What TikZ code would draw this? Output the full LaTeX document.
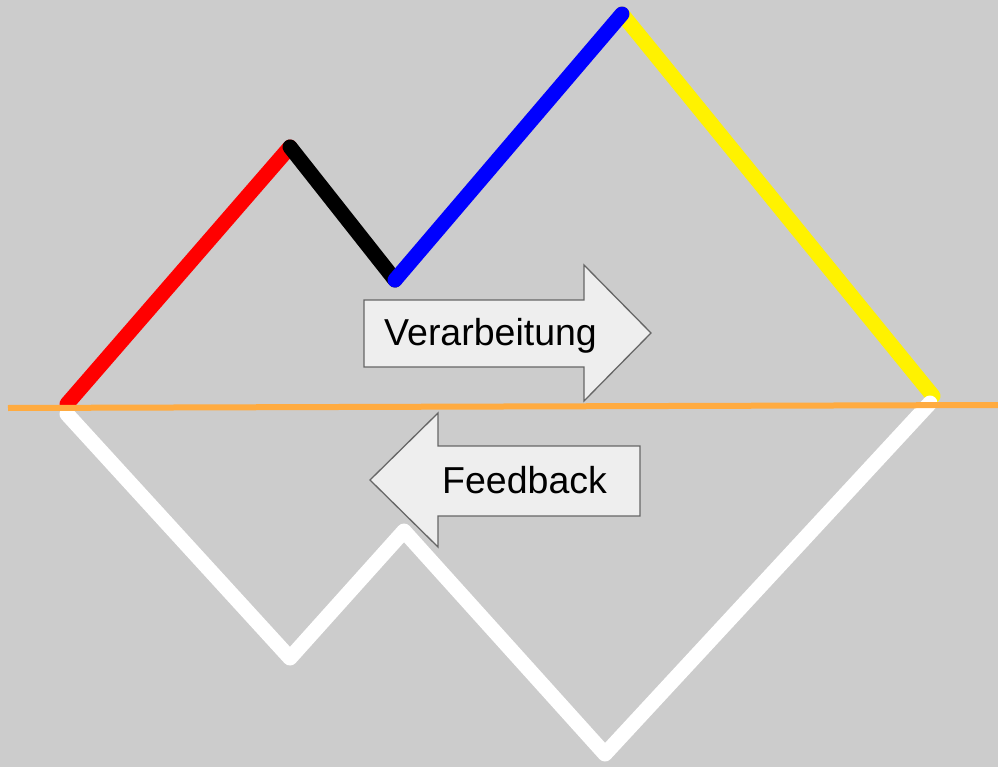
\documentclass[tikz,border=0pt]{standalone}
\usepackage{fontspec}
\setmainfont{Liberation Sans}
\definecolor{bg}{HTML}{CCCCCC}
\definecolor{boxfill}{HTML}{EEEEEE}
\definecolor{boxline}{HTML}{666666}
\definecolor{horizon}{HTML}{FFAB40}
\begin{document}
\begin{tikzpicture}[x=1pt,y=-1pt,
  stroke/.style={line width=15pt,line cap=round,line join=round},
  arrowbox/.style={fill=boxfill,draw=boxline,line width=1.3pt,line join=miter},
  label/.style={font=\fontsize{37.5}{42}\selectfont,anchor=base west,inner sep=0pt,text=black}]
% background
\fill[bg] (0,0) rectangle (998,767);
\useasboundingbox (0,0) rectangle (998,767);

% points of the upper and lower zigzag
\coordinate (u0) at (67,404);
\coordinate (u1) at (290,147);
\coordinate (u2) at (395,280);
\coordinate (u3) at (622,14);
\coordinate (u4) at (933,396);
\coordinate (w0) at (67,414);
\coordinate (w1) at (290,658);
\coordinate (w2) at (404,531);
\coordinate (w3) at (605,754);
\coordinate (w4) at (930,403);

% upper zigzag
\draw[stroke,red] (u0) -- (u1);
\draw[stroke,black] (u1) -- (u2);
\draw[stroke,yellow] (u3) -- (u4);
\draw[stroke,blue] (u2) -- (u3);

% lower zigzag
\draw[stroke,white] (w0) -- (w1) -- (w2) -- (w3) -- (w4);

% process arrow (right)
\draw[arrowbox] (364,300) -- (584,300) -- (584,265) -- (651,333) -- (584,401) -- (584,367) -- (364,367) -- cycle;
\node[label] (verarbeitung) at (384,345) {Verarbeitung};

% feedback arrow (left)
\draw[arrowbox] (640,446) -- (438,446) -- (438,413) -- (370,480) -- (438,547) -- (438,516) -- (640,516) -- cycle;
\node[label] (feedback) at (442,493) {Feedback};

% horizon line
\coordinate (h0) at (8,408);
\coordinate (h1) at (998,405);
\draw[horizon,line width=6pt] (h0) -- (h1);
\end{tikzpicture}
\end{document}
